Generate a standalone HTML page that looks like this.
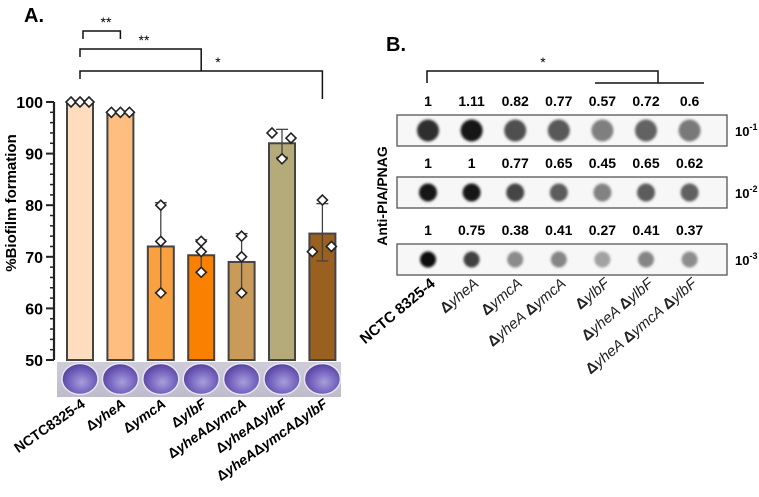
<!DOCTYPE html>
<html><head><meta charset="utf-8"><style>
html,body{margin:0;padding:0;background:#fff;}
svg{display:block;font-family:"Liberation Sans",Arial,sans-serif;}
</style></head><body>
<svg id="fig" width="759" height="497" viewBox="0 0 759 497">
<defs>
<linearGradient id="plate" x1="0" x2="0" y1="0" y2="1"><stop offset="0" stop-color="#cfcdd9"/><stop offset="1" stop-color="#bebccb"/></linearGradient>
<radialGradient id="well" cx="0.55" cy="0.6" r="0.55"><stop offset="0" stop-color="#a79fd8"/><stop offset="0.55" stop-color="#7d6cc4"/><stop offset="1" stop-color="#5a47a5"/></radialGradient>
<filter id="blur" x="-50%" y="-50%" width="200%" height="200%"><feGaussianBlur stdDeviation="1.2"/></filter>
</defs>
<text x="24" y="22" font-size="20" font-weight="bold">A.</text>
<text x="386" y="51" font-size="20" font-weight="bold">B.</text>
<g id="chartA"></g>
<g id="chartB"></g>
</svg>
<script>
const categories = ["NCTC8325-4","ΔyheA","ΔymcA","ΔylbF","ΔyheAΔymcA","ΔyheAΔylbF","ΔyheAΔymcAΔylbF"];
const means = [100, 98, 72, 70.3, 69, 92, 74.5];
const sdHigh = [100, 98, 80.5, 73.3, 74.5, 94.7, 80.3];
const sdLow = [100, 98, 63, 67, 63, 89.3, 69.2];
const points = [[100,100,100],[98,98,98],[80,73,63],[73,71,67],[74,70,63],[94,89,93],[71,81,72]];
const yTicks = [50, 60, 70, 80, 90, 100];
const blotLabels = ["NCTC 8325-4","ΔyheA","ΔymcA","ΔyheA ΔymcA","ΔylbF","ΔyheA ΔylbF","ΔyheA ΔymcA ΔylbF"];
const blotRow1 = [1, 1.11, 0.82, 0.77, 0.57, 0.72, 0.6];
const blotRow2 = [1, 1, 0.77, 0.65, 0.45, 0.65, 0.62];
const blotRow3 = [1, 0.75, 0.38, 0.41, 0.27, 0.41, 0.37];
const blotRowLabels = ["-1","-2","-3"];

const NS="http://www.w3.org/2000/svg";
function mk(tag, attrs, parent){const e=document.createElementNS(NS,tag);for(const k in attrs)e.setAttribute(k,attrs[k]);parent.appendChild(e);return e;}
function fillLabel(t,s,boldGene){
 s.split(/(Δ)/).forEach(part=>{if(!part)return;const ts=document.createElementNS(NS,'tspan');
  if(part==='Δ'){ts.setAttribute('font-weight','bold');ts.setAttribute('font-style','normal');}
  else if(!/NCTC/.test(part)){ts.setAttribute('font-style','italic');ts.setAttribute('font-weight',boldGene?'bold':'normal');}
  ts.textContent=part;t.appendChild(ts);});
}
const colors=["#FDDDBE","#FDBE80","#F9A040","#F98000","#C99A58","#B5AB7A","#996020"];
const jitter=[[-9,0,9],[-9,0,9],[0,0,0],[0,0,0],[0,0,0],[-10,0,9],[-10,0,9]];
const A=document.getElementById('chartA');
const y=v=>360-(v-50)*5.16;
const xc=i=>80+i*40.4;
const bw=26;
let ax=mk('line',{x1:54,x2:54,y1:y(100),y2:y(50),stroke:'#222','stroke-width':2.2},A);


for(let v=50;v<=100;v+=2){const major=v%10===0;const t=mk('line',{x1:major?46:50,x2:54,y1:y(v),y2:y(v),stroke:'#222','stroke-width':major?2:1.5},A);

}
yTicks.forEach(v=>{const t=mk('text',{x:43,y:y(v)+6,'text-anchor':'end','font-size':16,'font-weight':'bold'},A);t.textContent=v;

});
const yt=mk('text',{transform:'translate(16,203) rotate(-90)','text-anchor':'middle','font-size':15,'font-weight':'bold'},A);
yt.textContent='%Biofilm formation';


categories.forEach((c,i)=>{
 const b=mk('rect',{x:xc(i)-bw/2,y:y(means[i]),width:bw,height:y(50)-y(means[i]),fill:colors[i],stroke:'#444','stroke-width':2},A);
 
 
 if(sdHigh[i]!==sdLow[i]){
  const e=mk('line',{x1:xc(i),x2:xc(i),y1:y(sdHigh[i]),y2:y(sdLow[i]),stroke:'#444','stroke-width':1.3},A);
  
  
  [sdHigh[i],sdLow[i]].forEach(v=>{const cap=mk('line',{x1:xc(i)-6,x2:xc(i)+6,y1:y(v),y2:y(v),stroke:'#444','stroke-width':1.3},A);
  
  });
 }
 points[i].forEach((v,j)=>{const px=xc(i)+jitter[i][j];const py=y(v);
  const d=mk('path',{d:`M${px} ${py-5}L${px+5} ${py}L${px} ${py+5}L${px-5} ${py}Z`,fill:'#fff',stroke:'#222','stroke-width':1.6},A);
  
  });
});
const pl=mk('rect',{x:57,y:362,width:284,height:35,fill:'url(#plate)'},A);


categories.forEach((c,i)=>{const w=mk('ellipse',{cx:xc(i),cy:379,rx:18,ry:15.5,fill:'url(#well)',stroke:'#e6e4ee','stroke-width':1.5},A);

});
categories.forEach((c,i)=>{const t=mk('text',{transform:`translate(${xc(i)+6},406) rotate(-35)`,'text-anchor':'end','font-size':14,'font-weight':'bold'},A);fillLabel(t,c,true);

});
[[1,'**',0],[3,'**',1],[6,'*',2]].forEach(([j,s,k])=>{const top=[31,49,71][k];const lx=xc(0)+(k===0?3:0);
 const p=mk('path',{d:`M${lx} ${top+8}V${top}H${xc(j)}V${top+8+(k===2?20:(k===1?14:0))}`,fill:'none',stroke:'#111','stroke-width':1.5},A);
 
 
 const t=mk('text',{x:[106,144,218][k],y:top-4,'text-anchor':'middle','font-size':14},A);t.textContent=s;
 
 });

const B=document.getElementById('chartB');
const bx=i=>428+i*43.6;
const rows=[blotRow1,blotRow2,blotRow3];
const boxTop=[115,177,244];
const dotR=[11,9,8];
const pb=mk('path',{d:'M427 83V71H658V83M595 83H704',fill:'none',stroke:'#111','stroke-width':1.5},B);


const st=mk('text',{x:543,y:67,'text-anchor':'middle','font-size':14},B);st.textContent='*';


const at=mk('text',{transform:'translate(387,196) rotate(-90)','text-anchor':'middle','font-size':14,'font-weight':'bold'},B);at.textContent='Anti-PIA/PNAG';


rows.forEach((vals,r)=>{
 const top=boxTop[r];
 const bxr=mk('rect',{x:397,y:top,width:330,height:31,fill:'#f7f7f7',stroke:'#555','stroke-width':1.3},B);
 
 
 const rl=mk('text',{x:735,y:top+21,'font-size':13,'font-weight':'bold'},B);
 rl.innerHTML='10<tspan font-size="9" dy="-6">'+blotRowLabels[r]+'</tspan>';
 
 
 vals.forEach((v,i)=>{
  const t=mk('text',{x:bx(i),y:top-9,'text-anchor':'middle','font-size':14,'font-weight':'bold'},B);t.textContent=v;
  
  
  const g=Math.round(Math.max(10,Math.min(225,215-v*(r===2?200:190)+(r===0?20:0))));
  const d=mk('circle',{cx:bx(i),cy:top+15.5,r:dotR[r],fill:`rgb(${g},${g},${g})`,filter:'url(#blur)'},B);
  
  
 });
});
blotLabels.forEach((c,i)=>{const t=mk('text',{transform:`translate(${bx(i)+8},285) rotate(-40)`,'text-anchor':'end','font-size':15,'font-weight':i===0?'bold':'normal',fill:i===0?'#000':'#222'},B);
if(i===0)t.textContent=c;else fillLabel(t,c,false);

});
</script>
</body></html>
